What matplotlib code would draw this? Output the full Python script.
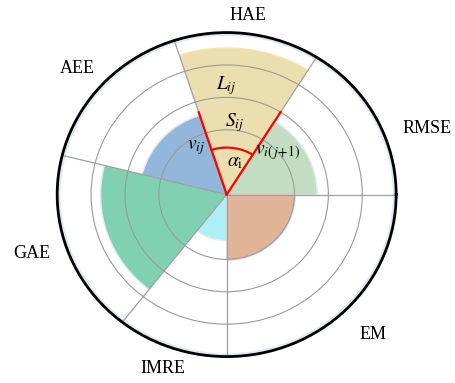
import numpy as np
import matplotlib.pyplot as plt

# indicators, sector boundaries (deg) and radial values
labels = ["RMSE", "HAE", "AEE", "GAE", "IMRE", "EM"]
edges_deg = [0, 58, 108, 166, 232, 270, 360]
values = [2.65, 4.5, 2.55, 3.7, 1.4, 2.0]

colors = ["#c3ddc3", "#ebdfaf", "#92b7da", "#80d1b1", "#aeeef7", "#e1b497"]
glow = ["#e4edf5", "#f6e2ae", "#dfe9f4", "#e2ecf6", "#dcecf8", "#d3e0ee"]

# where the category names sit (deg, r)
label_pos = [(19, 6.25), (83.5, 5.55), (138.7, 5.88), (197.5, 6.02),
             (250.7, 5.7), (315, 6.09)]

plt.rcParams["font.family"] = ["Liberation Serif", "DejaVu Serif"]
plt.rcParams["mathtext.fontset"] = "stix"

fig = plt.figure(figsize=(4.56, 3.83), dpi=100)
ax = fig.add_axes([0.1254, 0.0690, 0.7434, 0.8460], projection="polar")
ax.set_aspect("auto")

edges = np.deg2rad(edges_deg)
widths = np.diff(edges)

# soft halo behind each sector, then the sector itself
ax.bar(edges[:-1], np.array(values) + 0.045, width=widths, align="edge",
       color=glow, edgecolor="none", zorder=0.5)
ax.bar(edges[:-1], values, width=widths, align="edge",
       color=colors, edgecolor="none", zorder=0.8)

ax.set_ylim(0, 5)
ax.set_rgrids([2, 3, 4], labels=[])
ax.set_thetagrids(edges_deg[:-1], labels=[])
ax.grid(True, color="#9a9a9a", linewidth=0.8)
ax.xaxis.grid(True, color="#a0a0a0", linewidth=0.9)
ax.spines["polar"].set_linewidth(2.0)
ax.spines["polar"].set_color("black")

# faint glow just inside the outer ring
th = np.linspace(0, 2 * np.pi, 400)
ax.plot(th, np.full_like(th, 4.94), color="#dde9f5", lw=2.0, zorder=0.6)

for name, (a, r) in zip(labels, label_pos):
    ax.text(np.deg2rad(a), r, name, ha="center", va="center", fontsize=13,
            clip_on=False)

# highlight the HAE sector: its two edges and the angle arc
t0, t1 = edges[1], edges[2]
ax.plot([t1, t1], [0, 2.67], color="red", lw=1.6, zorder=3)
ax.plot([t0, t0], [0, 3.0], color="red", lw=1.6, zorder=3)
arc = np.linspace(t0, t1, 50)
ax.plot(arc, np.full_like(arc, 1.45), color="red", lw=1.6, zorder=3)

ax.text(np.deg2rad(90), 3.35, r"$L_{ij}$", ha="center", va="center", fontsize=14)
ax.text(np.deg2rad(83.7), 2.23, r"$S_{ij}$", ha="center", va="center", fontsize=14)
ax.text(np.deg2rad(121.5), 1.70, r"$v_{ij}$", ha="center", va="center", fontsize=14)
ax.text(np.deg2rad(40.5), 1.99, r"$v_{i(\,j\!+\!1)}$", ha="center", va="center",
        fontsize=14)
ax.text(np.deg2rad(76), 1.01, r"$\alpha_{\rm i}$", ha="center", va="center",
        fontsize=14)

fig.savefig("out.png", dpi=100)
